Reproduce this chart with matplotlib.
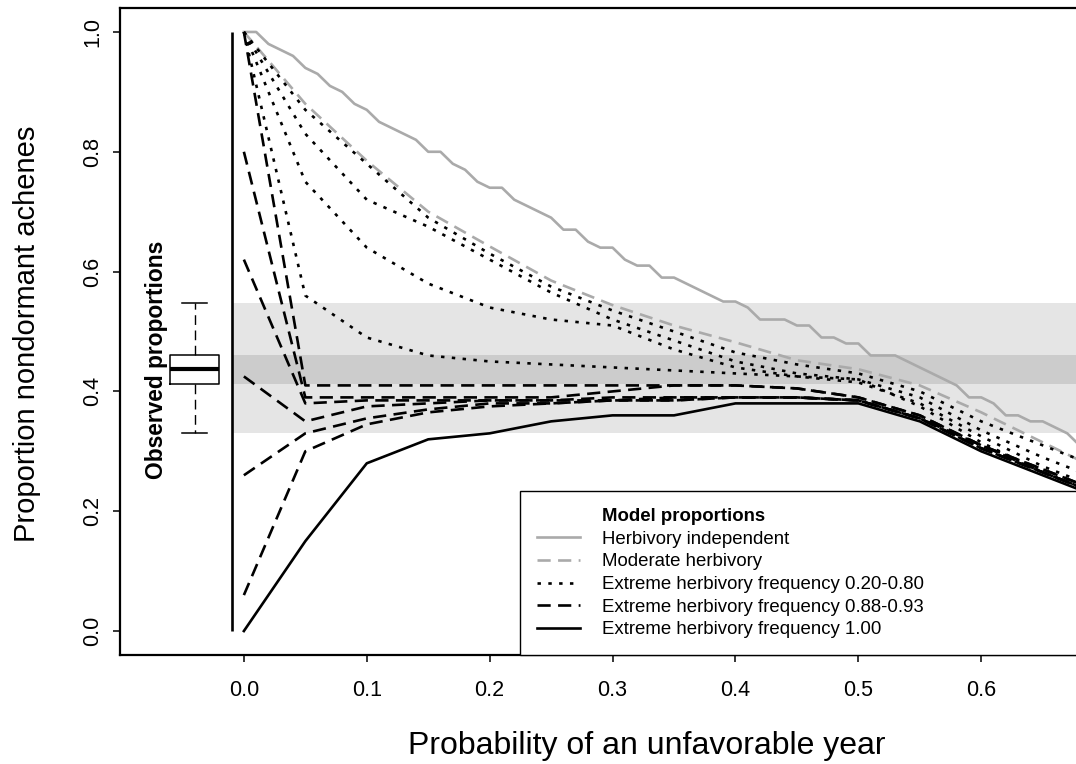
import matplotlib.pyplot as plt
from matplotlib.lines import Line2D

plt.rcParams['font.family'] = ['Liberation Sans', 'DejaVu Sans']

# probability of an unfavorable year (model grid)
p_coarse = [0.00, 0.05, 0.10, 0.15, 0.20, 0.25, 0.30, 0.35, 0.40, 0.45,
            0.50, 0.55, 0.60, 0.65, 0.70]
p_fine = [0.00, 0.01, 0.02, 0.03, 0.04, 0.05, 0.06, 0.07, 0.08, 0.09,
          0.10, 0.11, 0.12, 0.13, 0.14, 0.15, 0.16, 0.17, 0.18, 0.19,
          0.20, 0.21, 0.22, 0.23, 0.24, 0.25, 0.26, 0.27, 0.28, 0.29,
          0.30, 0.31, 0.32, 0.33, 0.34, 0.35, 0.36, 0.37, 0.38, 0.39,
          0.40, 0.41, 0.42, 0.43, 0.44, 0.45, 0.46, 0.47, 0.48, 0.49,
          0.50, 0.51, 0.52, 0.53, 0.54, 0.55, 0.56, 0.57, 0.58, 0.59,
          0.60, 0.61, 0.62, 0.63, 0.64, 0.65, 0.66, 0.67, 0.68]

herb_indep = [1.00, 1.00, 0.98, 0.97, 0.96, 0.94, 0.93, 0.91, 0.90, 0.88,
              0.87, 0.85, 0.84, 0.83, 0.82, 0.80, 0.80, 0.78, 0.77, 0.75,
              0.74, 0.74, 0.72, 0.71, 0.70, 0.69, 0.67, 0.67, 0.65, 0.64,
              0.64, 0.62, 0.61, 0.61, 0.59, 0.59, 0.58, 0.57, 0.56, 0.55,
              0.55, 0.54, 0.52, 0.52, 0.52, 0.51, 0.51, 0.49, 0.49, 0.48,
              0.48, 0.46, 0.46, 0.46, 0.45, 0.44, 0.43, 0.42, 0.41, 0.39,
              0.39, 0.38, 0.36, 0.36, 0.35, 0.35, 0.34, 0.33, 0.31]

moderate = [1.00, 0.88, 0.785, 0.70, 0.642, 0.585, 0.544, 0.51, 0.482,
            0.452, 0.437, 0.41, 0.365, 0.315, 0.265]

# extreme herbivory frequency 0.20-0.80
extreme_low = [
    [1.00, 0.87, 0.78, 0.69, 0.63, 0.575, 0.535, 0.50, 0.465, 0.445, 0.43, 0.40, 0.35, 0.31, 0.27],
    [1.00, 0.83, 0.72, 0.675, 0.62, 0.565, 0.52, 0.485, 0.45, 0.43, 0.42, 0.39, 0.335, 0.29, 0.25],
    [1.00, 0.75, 0.64, 0.58, 0.54, 0.52, 0.51, 0.47, 0.44, 0.425, 0.415, 0.38, 0.325, 0.275, 0.235],
    [1.00, 0.56, 0.49, 0.46, 0.45, 0.445, 0.44, 0.435, 0.43, 0.425, 0.42, 0.375, 0.315, 0.265, 0.225],
]

# extreme herbivory frequency 0.88-0.93
extreme_mid = [
    [1.00, 0.41, 0.41, 0.41, 0.41, 0.41, 0.41, 0.41, 0.41, 0.405, 0.39, 0.36, 0.31, 0.27, 0.23],
    [0.80, 0.39, 0.39, 0.39, 0.39, 0.39, 0.40, 0.41, 0.41, 0.405, 0.39, 0.36, 0.31, 0.27, 0.23],
    [0.62, 0.38, 0.385, 0.385, 0.385, 0.385, 0.39, 0.39, 0.39, 0.39, 0.385, 0.355, 0.31, 0.265, 0.225],
    [0.425, 0.35, 0.375, 0.38, 0.385, 0.385, 0.385, 0.39, 0.39, 0.39, 0.385, 0.355, 0.305, 0.265, 0.225],
    [0.26, 0.33, 0.355, 0.37, 0.38, 0.38, 0.385, 0.385, 0.39, 0.39, 0.385, 0.355, 0.305, 0.265, 0.225],
    [0.06, 0.30, 0.345, 0.365, 0.375, 0.38, 0.385, 0.385, 0.39, 0.39, 0.385, 0.355, 0.305, 0.265, 0.225],
]

# extreme herbivory frequency 1.00
extreme_all = [0.00, 0.15, 0.28, 0.32, 0.33, 0.35, 0.36, 0.36, 0.38, 0.38,
               0.38, 0.35, 0.30, 0.26, 0.22]

# observed proportions (boxplot summary)
obs_min, obs_q1, obs_med, obs_q3, obs_max = 0.331, 0.413, 0.438, 0.46, 0.547

grey = '#aaaaaa'
lw = 1.9

fig = plt.figure(figsize=(10.76, 7.64), dpi=100)
ax = fig.add_axes([120/1076, 109/764, 1022/1076, 647/764])

# observed range bands
ax.fill_between([-0.01, 0.75], obs_min, obs_max, color='#e5e5e5', lw=0, zorder=0)
ax.fill_between([-0.01, 0.75], obs_q1, obs_q3, color='#cccccc', lw=0, zorder=0)
ax.plot([-0.01, -0.01], [0, 1], color='black', lw=lw, solid_capstyle='butt')

ax.bxp([dict(med=obs_med, q1=obs_q1, q3=obs_q3, whislo=obs_min, whishi=obs_max, fliers=[])],
       positions=[-0.04], widths=0.04, showfliers=False, manage_ticks=False,
       boxprops=dict(color='black', lw=1.1),
       medianprops=dict(color='black', lw=3, solid_capstyle='butt'),
       whiskerprops=dict(color='black', lw=1.0, linestyle=(0, (7, 4))),
       capprops=dict(color='black', lw=1.1))
ax.text(-0.0715, 0.453, 'Observed proportions', rotation=90, ha='center', va='center',
        fontsize=16.4, fontweight='bold')

# model curves
ax.plot(p_fine, herb_indep, color=grey, lw=lw)
ax.plot(p_coarse, moderate, color=grey, lw=lw, ls=(0, (5, 2.8)))
for vals in extreme_low:
    ax.plot(p_coarse, vals, color='black', lw=lw, ls=(0, (1.3, 2.8)))
for vals in extreme_mid:
    ax.plot(p_coarse, vals, color='black', lw=lw, ls=(0, (5, 2.8)))
ax.plot(p_coarse, extreme_all, color='black', lw=lw)

ax.set_xlim(-0.1008, 0.7308)
ax.set_ylim(-0.04, 1.04)
ax.set_xticks([0, 0.1, 0.2, 0.3, 0.4, 0.5, 0.6])
ax.set_xticklabels(['0.0', '0.1', '0.2', '0.3', '0.4', '0.5', '0.6'])
ax.set_yticks([0, 0.2, 0.4, 0.6, 0.8, 1.0])
ax.set_yticklabels(['0.0', '0.2', '0.4', '0.6', '0.8', '1.0'], rotation=90, va='center')
ax.tick_params(direction='out', length=5, width=1.1, labelsize=15.5)
ax.tick_params(axis='x', pad=13)
ax.tick_params(axis='y', pad=7)
for s in ax.spines.values():
    s.set_linewidth(1.6)

fig.text(647/1076, 1 - 746/764, 'Probability of an unfavorable year', ha='center', va='center', fontsize=23)
fig.text(27/1076, 1 - 334/764, 'Proportion nondormant achenes', ha='center', va='center',
         rotation=90, fontsize=21)

handles = [Line2D([], [], linestyle='none'),
           Line2D([], [], color=grey, lw=lw),
           Line2D([], [], color=grey, lw=lw, ls=(0, (5, 2.8))),
           Line2D([], [], color='black', lw=lw, ls=(0, (1.3, 2.8))),
           Line2D([], [], color='black', lw=lw, ls=(0, (5, 2.8))),
           Line2D([], [], color='black', lw=lw)]
labels = ['Model proportions', 'Herbivory independent', 'Moderate herbivory',
          'Extreme herbivory frequency 0.20-0.80', 'Extreme herbivory frequency 0.88-0.93',
          'Extreme herbivory frequency 1.00']
x0 = (520 - 120) / 1022
leg = ax.legend(handles, labels, loc='lower left', bbox_to_anchor=(x0, 0, 1 - x0, 0.3),
                mode='expand', borderaxespad=0, fontsize=13.4, handlelength=2.3,
                handletextpad=1.2, borderpad=0.9, labelspacing=0.3,
                fancybox=False, edgecolor='black', framealpha=1)
leg.get_frame().set_linewidth(1.0)
leg.get_texts()[0].set_fontweight('bold')

fig.savefig('out.png', dpi=100)
